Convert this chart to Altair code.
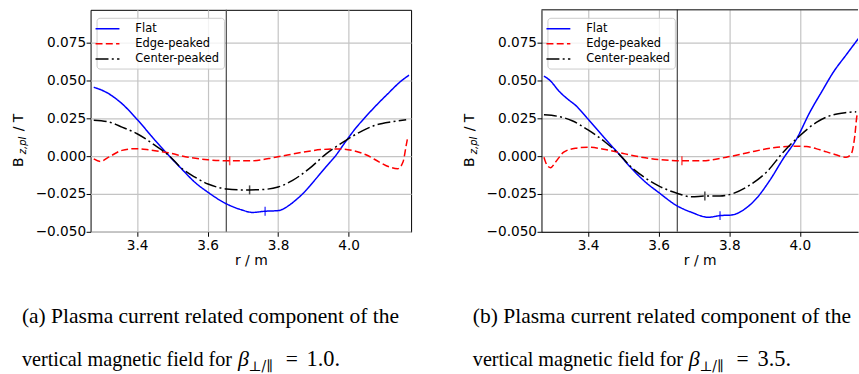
import altair as alt
import pandas as pd

profiles = ["Flat", "Edge-peaked", "Center-peaked"]
colors = ["#0000ff", "#ff0000", "#000000"]
dashes = [[1, 0], [7, 3.3], [13, 3.3, 2, 3.3]]
x_ticks = [3.4, 3.6, 3.8, 4.0]
y_ticks = [-0.05, -0.025, 0.0, 0.025, 0.05, 0.075]
axis_r = [3.653]

# ---------- panel (a): beta = 1.0 ----------
a_flat_r = [3.277, 3.31, 3.357, 3.40, 3.451, 3.488, 3.526, 3.564, 3.601, 3.654, 3.695, 3.728,
            3.763, 3.80, 3.831, 3.85, 3.869, 3.907, 3.935, 3.962, 3.991, 4.02, 4.05, 4.08, 4.11, 4.148, 4.171]
a_flat_b = [0.0455, 0.0425, 0.0347, 0.0243, 0.0104, 0.0009, -0.0084, -0.0173, -0.0239, -0.0316, -0.0354, -0.0372,
            -0.0364, -0.036, -0.0325, -0.029, -0.025, -0.015, -0.0072, 0.0, 0.0095, 0.0185, 0.0265, 0.034,
            0.041, 0.0495, 0.0535]
a_edge_r = [3.277, 3.296, 3.319, 3.357, 3.394, 3.432, 3.488, 3.545, 3.601, 3.658, 3.72, 3.793, 3.86,
            3.926, 3.973, 4.011, 4.049, 4.087, 4.116, 4.139, 4.154, 4.163, 4.168]
a_edge_b = [-0.0018, -0.0035, -0.0007, 0.0038, 0.0049, 0.0042, 0.0022, -0.0007, -0.0024, -0.0031, -0.0031,
            -0.0007, 0.0022, 0.0044, 0.0048, 0.0037, 0.0009, -0.0039, -0.0072, -0.0083, -0.0039, 0.007, 0.0132]
a_center_r = [3.277, 3.319, 3.357, 3.40, 3.451, 3.488, 3.526, 3.564, 3.601, 3.654, 3.695, 3.719, 3.765,
              3.80, 3.841, 3.888, 3.936, 3.991, 4.04, 4.078, 4.125, 4.163]
a_center_b = [0.0237, 0.0226, 0.0192, 0.0148, 0.0071, 0.0009, -0.008, -0.0139, -0.0184, -0.0217, -0.0223,
              -0.0223, -0.0219, -0.0204, -0.016, -0.0083, 0.0015, 0.0103, 0.0169, 0.0206, 0.0228, 0.0241]
a_mark_r = [3.763, 3.6625, 3.719]
a_mark_b = [-0.0364, -0.0031, -0.0223]

# ---------- panel (b): beta = 3.5 ----------
b_flat_r = [3.275, 3.294, 3.317, 3.345, 3.364, 3.40, 3.449, 3.487, 3.524, 3.562, 3.60, 3.652, 3.694,
            3.7406, 3.774, 3.807, 3.84, 3.877, 3.915, 3.953, 3.991, 4.028, 4.066, 4.094, 4.132, 4.167]
b_flat_b = [0.0529, 0.0496, 0.0431, 0.0372, 0.0337, 0.0245, 0.0114, 0.0015, -0.0083, -0.017, -0.024, -0.0328,
            -0.0372, -0.0404, -0.0393, -0.0389, -0.0356, -0.028, -0.016, -0.0017, 0.0114, 0.0288, 0.0441,
            0.0551, 0.0671, 0.078]
b_edge_r = [3.275, 3.284, 3.294, 3.308, 3.331, 3.364, 3.40, 3.449, 3.505, 3.562, 3.618, 3.666, 3.72, 3.792,
            3.858, 3.925, 3.981, 4.019, 4.057, 4.094, 4.132, 4.146, 4.156, 4.162, 4.165]
b_edge_b = [-0.0007, -0.0061, -0.0076, -0.0039, 0.0026, 0.0052, 0.0059, 0.0044, 0.0015, -0.0011, -0.0026,
            -0.0031, -0.0031, -0.0007, 0.0026, 0.0055, 0.0066, 0.0063, 0.0042, 0.0015, -0.0007, 0.0015,
            0.0135, 0.0267, 0.0288]
b_center_r = [3.275, 3.317, 3.355, 3.40, 3.449, 3.487, 3.524, 3.562, 3.60, 3.652, 3.694, 3.731, 3.774,
              3.811, 3.858, 3.906, 3.953, 4.0, 4.047, 4.094, 4.132, 4.16]
b_center_b = [0.0273, 0.0262, 0.0234, 0.0173, 0.0092, 0.0015, -0.0076, -0.0144, -0.0197, -0.0245, -0.0269,
              -0.0264, -0.0264, -0.0247, -0.0192, -0.0105, 0.0026, 0.0135, 0.0223, 0.0273, 0.0288, 0.0293]
b_mark_r = [3.774, 3.666, 3.731]
b_mark_b = [-0.0393, -0.0031, -0.0264]

y_title_main = ["B"]
y_title_sub = ["z,pl"]
y_title_unit = ["/ T"]
caption_line1 = ["(a) Plasma current related component of the", "(b) Plasma current related component of the"]
caption_line2 = ["vertical magnetic field for"]
caption_beta = ["β"]
caption_sub = ["⊥/∥"]
caption_eq = ["="]
caption_val = ["1.0.", "3.5."]


def long_df(rs, bs):
    rows = []
    for p, rr, bb in zip(profiles, rs, bs):
        rows += [{"profile": p, "r": x, "b": y} for x, y in zip(rr, bb)]
    return pd.DataFrame(rows)


def text_layer(label, x, y, size, font="DejaVu Sans", style="normal", angle=0):
    kw = dict(align="left", baseline="alphabetic", font=font, fontSize=size,
              fontStyle=style, color="black")
    if angle:
        kw["angle"] = angle
    return alt.Chart(pd.DataFrame({"label": [label]})).mark_text(**kw).encode(
        text="label:N", x=alt.value(x), y=alt.value(y))


def panel(lines_df, marks_df, width, xmax, cap1, cap_val, right):
    height = 223
    xs = alt.Scale(domain=[3.268, xmax], nice=False, zero=False)
    ys = alt.Scale(domain=[-0.05, 0.0967], nice=False, zero=False)
    xaxis = alt.Axis(values=x_ticks, format=".1f", title="r / m", domain=right)
    yaxis = alt.Axis(values=y_ticks, format=".3f", title=None, domain=right, labelPadding=0.5)
    leg = alt.Legend(orient="none", legendX=6, legendY=8, title=None, symbolType="M-2,0H2",
                     symbolSize=144, symbolStrokeWidth=1.5, labelFont="DejaVu Sans",
                     labelFontSize=11.5, labelColor="black", fillColor="rgba(255,255,255,0.8)",
                     strokeColor="#cccccc", cornerRadius=3, padding=4, rowPadding=2.2,
                     labelOffset=21)
    color = alt.Color("profile:N", scale=alt.Scale(domain=profiles, range=colors), legend=leg)
    dash = alt.StrokeDash("profile:N", scale=alt.Scale(domain=profiles, range=dashes), legend=leg)

    vline = alt.Chart(pd.DataFrame({"r": axis_r})).mark_rule(
        color="#555555", strokeWidth=1.3).encode(x=alt.X("r:Q", scale=xs, axis=xaxis))
    lines = alt.Chart(lines_df).mark_line(strokeWidth=1.5, interpolate="monotone", clip=True).encode(
        x=alt.X("r:Q", scale=xs, axis=xaxis),
        y=alt.Y("b:Q", scale=ys, axis=yaxis),
        color=color, strokeDash=dash, detail="profile:N")
    ticks = alt.Chart(marks_df).mark_tick(orient="vertical", size=9, thickness=1.5).encode(
        x=alt.X("r:Q", scale=xs, axis=xaxis),
        y=alt.Y("b:Q", scale=ys, axis=yaxis),
        color=alt.Color("profile:N", scale=alt.Scale(domain=profiles, range=colors), legend=None))
    layers = [vline, lines, ticks,
              text_layer(y_title_main[0], -68, 158, 14, angle=270),
              text_layer(y_title_sub[0], -65, 145, 10, style="italic", angle=270),
              text_layer(y_title_unit[0], -68, 122, 14, angle=270),
              text_layer(cap1, -69, 314.7, 21.6, font="Liberation Serif"),
              text_layer(caption_line2[0], -69, 358, 20.3, font="Liberation Serif"),
              text_layer(caption_beta[0], 148, 358, 22, font="Liberation Serif", style="italic"),
              text_layer(caption_sub[0], 158.5, 363, 14, font="DejaVu Serif"),
              text_layer(caption_eq[0], 196, 358, 21.6, font="Liberation Serif"),
              text_layer(cap_val, 217, 358, 22.5, font="Liberation Serif")]
    if right:
        top = alt.Chart(pd.DataFrame({"r": axis_r})).mark_rule(color="black", strokeWidth=1).encode(
            x=alt.value(0), x2=alt.value(width), y=alt.value(0))
        layers.append(top)
    ch = alt.layer(*layers).properties(width=width, height=height)
    if right:
        ch = ch.properties(view=alt.ViewBackground(stroke="transparent"))
    return ch


a_lines = long_df([a_flat_r, a_edge_r, a_center_r], [a_flat_b, a_edge_b, a_center_b])
b_lines = long_df([b_flat_r, b_edge_r, b_center_r], [b_flat_b, b_edge_b, b_center_b])
a_marks = pd.DataFrame({"profile": profiles, "r": a_mark_r, "b": a_mark_b})
b_marks = pd.DataFrame({"profile": profiles, "r": b_mark_r, "b": b_mark_b})

left = panel(a_lines, a_marks, 322, 4.177, caption_line1[0], caption_val[0], False)
right = panel(b_lines, b_marks, 318, 4.165, caption_line1[1], caption_val[1], True)

chart = alt.hconcat(left, right, spacing=50).resolve_scale(
    x="independent", y="independent", color="independent", strokeDash="independent"
).properties(
    padding={"left": 11, "top": 7, "right": 0, "bottom": 0}, background="white"
).configure_view(stroke="black", strokeWidth=1).configure_axis(
    labelFont="DejaVu Sans", labelFontSize=13.7, labelColor="black",
    titleFont="DejaVu Sans", titleFontSize=14, titleFontWeight="normal", titleColor="black",
    tickColor="black", tickSize=4.5, tickWidth=1, labelPadding=2, titlePadding=2,
    domainColor="black", domainWidth=1, grid=True, gridColor="#c4c4c4", gridWidth=1.2
)

chart.save("out.html", embed_options={"renderer": "svg", "actions": False})
